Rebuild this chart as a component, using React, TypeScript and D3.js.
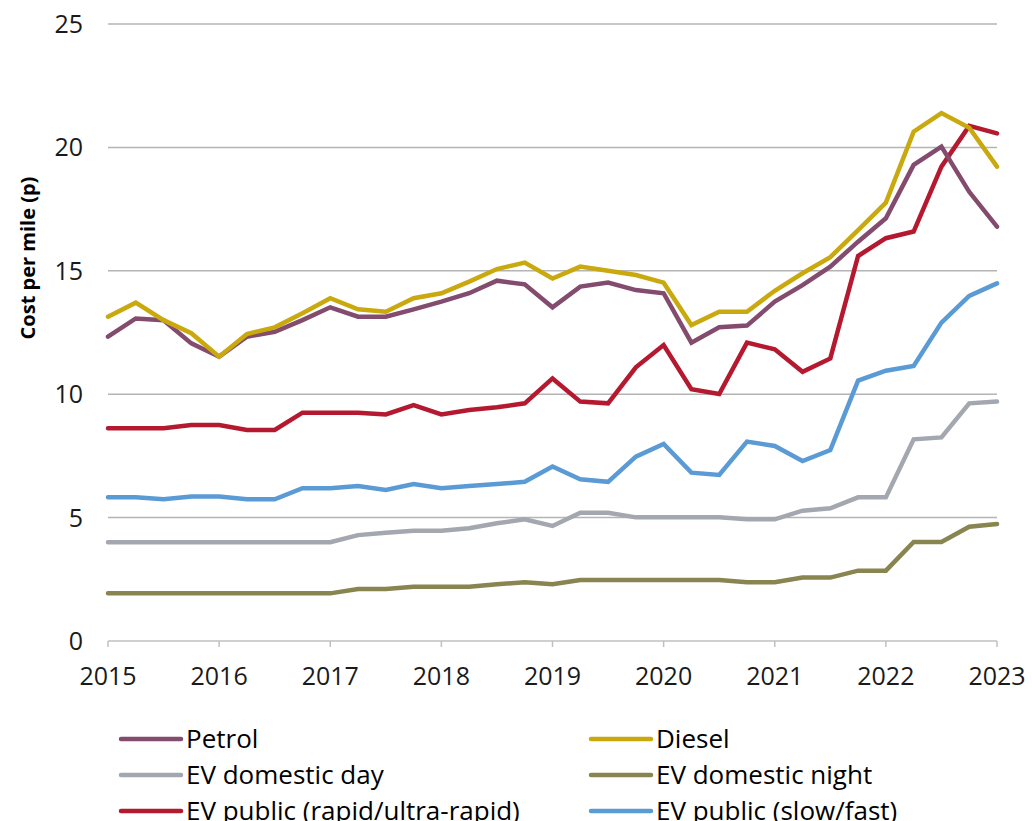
import React, { useEffect, useRef } from 'react';
import * as d3 from 'd3';

// quarterly observations, 2015 Q1 .. 2023 Q1
const quarters: number[] = d3.range(33).map(i => 2015 + i / 4);

const petrol = [12.33, 13.07, 13.0, 12.06, 11.52, 12.33, 12.53, 13.0, 13.52, 13.14, 13.14, 13.44, 13.75, 14.09, 14.6, 14.45, 13.52,
  14.36, 14.52, 14.22, 14.09, 12.09, 12.71, 12.78, 13.75, 14.42, 15.17, 16.18, 17.13, 19.29, 20.03, 18.2, 16.79];
const diesel = [13.14, 13.71, 13.0, 12.47, 11.52, 12.44, 12.71, 13.28, 13.89, 13.44, 13.34, 13.89, 14.09, 14.56, 15.07, 15.33, 14.69,
  15.17, 15.0, 14.83, 14.52, 12.8, 13.34, 13.34, 14.19, 14.9, 15.55, 16.65, 17.76, 20.64, 21.39, 20.8, 19.22];
const evDay = [4.0, 4.0, 4.0, 4.0, 4.0, 4.0, 4.0, 4.0, 4.0, 4.29, 4.39, 4.47, 4.47, 4.57, 4.77, 4.93, 4.66,
  5.2, 5.2, 5.01, 5.01, 5.01, 5.01, 4.93, 4.93, 5.28, 5.38, 5.82, 5.82, 8.17, 8.25, 9.63, 9.7];
const evNight = [1.93, 1.93, 1.93, 1.93, 1.93, 1.93, 1.93, 1.93, 1.93, 2.11, 2.11, 2.2, 2.2, 2.2, 2.3, 2.38, 2.3,
  2.47, 2.47, 2.47, 2.47, 2.47, 2.47, 2.38, 2.38, 2.57, 2.57, 2.85, 2.85, 4.01, 4.01, 4.63, 4.74];
const evRapid = [8.62, 8.62, 8.62, 8.75, 8.75, 8.55, 8.55, 9.25, 9.25, 9.25, 9.18, 9.56, 9.18, 9.36, 9.47, 9.63, 10.64,
  9.7, 9.63, 11.09, 11.99, 10.2, 10.01, 12.09, 11.82, 10.91, 11.45, 15.6, 16.32, 16.59, 19.22, 20.87, 20.57];
const evSlow = [5.82, 5.82, 5.74, 5.85, 5.85, 5.74, 5.74, 6.19, 6.19, 6.28, 6.12, 6.36, 6.19, 6.28, 6.36, 6.45, 7.07,
  6.55, 6.45, 7.47, 7.98, 6.82, 6.73, 8.08, 7.9, 7.29, 7.74, 10.55, 10.95, 11.14, 12.9, 13.98, 14.49];

const seriesNames = ['Petrol', 'Diesel', 'EV domestic day', 'EV domestic night', 'EV public (rapid/ultra-rapid)', 'EV public (slow/fast)'];
const seriesValues = [petrol, diesel, evDay, evNight, evRapid, evSlow];
const seriesColors = ['#834b6d', '#c9a90d', '#a3a7af', '#888550', '#b5192f', '#5b9bd5'];
// draw order (back to front)
const drawOrder = [3, 2, 5, 4, 0, 1];

const yearTicks = [2015, 2016, 2017, 2018, 2019, 2020, 2021, 2022, 2023];
const yTicks = [0, 5, 10, 15, 20, 25];

const W = 1032;
const H = 821;
const margin = { top: 24, right: 35, bottom: 180, left: 108 };
const font = '"Open Sans", "Noto Sans", sans-serif';

const CostChart: React.FC = () => {
  const svgRef = useRef<SVGSVGElement>(null);

  useEffect(() => {
    document.body.style.margin = '0';
    if (!svgRef.current) return;
    const svg = d3.select(svgRef.current);
    svg.selectAll('*').remove();

    const x = d3.scaleLinear().domain([2015, 2023]).range([margin.left, W - margin.right]);
    const y = d3.scaleLinear().domain([0, 25]).range([H - margin.bottom, margin.top]);

    // grid
    svg.append('g')
      .selectAll('line')
      .data(yTicks.filter(t => t > 0))
      .join('line')
      .attr('x1', x(2015)).attr('x2', x(2023))
      .attr('y1', d => y(d)).attr('y2', d => y(d))
      .attr('stroke', '#b4b4b4')
      .attr('stroke-width', 1.5);

    // x axis line + ticks
    const xAxis = svg.append('g');
    xAxis.append('line')
      .attr('x1', x(2015)).attr('x2', x(2023))
      .attr('y1', y(0)).attr('y2', y(0))
      .attr('stroke', '#c0c0c0').attr('stroke-width', 1.5);
    xAxis.selectAll('line.tick')
      .data(yearTicks)
      .join('line')
      .attr('class', 'tick')
      .attr('x1', d => x(d)).attr('x2', d => x(d))
      .attr('y1', y(0)).attr('y2', y(0) + 6)
      .attr('stroke', '#c0c0c0').attr('stroke-width', 1.5);
    xAxis.selectAll('text')
      .data(yearTicks)
      .join('text')
      .attr('x', d => x(d))
      .attr('y', y(0) + 44)
      .attr('text-anchor', 'middle')
      .attr('fill', '#1a1a1a')
      .style('font-family', font)
      .style('font-size', '25px')
      .text(d => String(d));

    // y tick labels
    svg.append('g')
      .selectAll('text')
      .data(yTicks)
      .join('text')
      .attr('x', 83)
      .attr('y', d => y(d))
      .attr('dy', '0.36em')
      .attr('text-anchor', 'end')
      .attr('fill', '#1a1a1a')
      .style('font-family', font)
      .style('font-size', '25px')
      .text(d => String(d));

    // y axis title
    svg.append('text')
      .attr('transform', `translate(35,258) rotate(-90)`)
      .attr('text-anchor', 'middle')
      .attr('fill', '#000')
      .style('font-family', font)
      .style('font-size', '20px')
      .style('font-weight', 'bold')
      .text('Cost per mile (p)');

    // lines
    const line = d3.line<number>()
      .x((_, i) => x(quarters[i]))
      .y(d => y(d));

    svg.append('g')
      .selectAll('path')
      .data(drawOrder)
      .join('path')
      .attr('d', k => line(seriesValues[k]) || '')
      .attr('fill', 'none')
      .attr('stroke', k => seriesColors[k])
      .attr('stroke-width', 4.5)
      .attr('stroke-linejoin', 'miter')
      .attr('stroke-linecap', 'round');

    // legend, 2 columns x 3 rows
    const legend = svg.append('g');
    const colX = [121, 591];
    const rowY = [739, 775, 811];
    seriesNames.forEach((name, i) => {
      const cx = colX[i % 2];
      const cy = rowY[Math.floor(i / 2)];
      legend.append('line')
        .attr('x1', cx).attr('x2', cx + 60)
        .attr('y1', cy).attr('y2', cy)
        .attr('stroke', seriesColors[i])
        .attr('stroke-width', 4.5)
        .attr('stroke-linecap', 'round');
      legend.append('text')
        .attr('x', cx + 65)
        .attr('y', cy)
        .attr('dy', '0.36em')
        .attr('fill', '#000')
        .style('font-family', font)
        .style('font-size', '26px')
        .text(name);
    });
  }, []);

  return <svg ref={svgRef} width={W} height={H} style={{ display: 'block' }} />;
};

export default function App() {
  return <CostChart />;
}
